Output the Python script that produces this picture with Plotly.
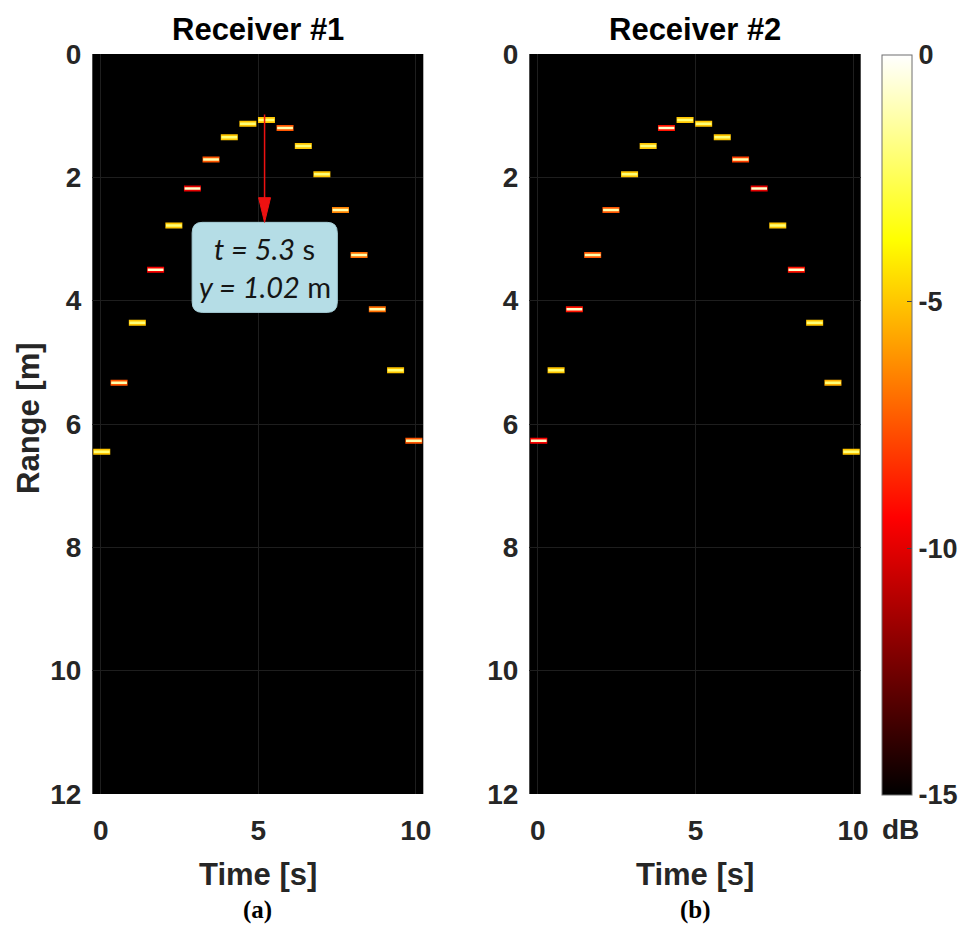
import plotly.graph_objects as go

# ---------------- data ----------------
time_s = [0.03, 0.58, 1.16, 1.74, 2.32, 2.91, 3.50, 4.08, 4.67,
          5.26, 5.85, 6.43, 7.02, 7.61, 8.20, 8.78, 9.36, 9.94]
rx1_range_m = [6.45, 5.33, 4.36, 3.50, 2.78, 2.18, 1.71, 1.35, 1.13,
               1.07, 1.20, 1.49, 1.95, 2.53, 3.26, 4.14, 5.13, 6.27]
rx2_range_m = [6.27, 5.13, 4.14, 3.26, 2.53, 1.95, 1.49, 1.20, 1.07,
               1.13, 1.35, 1.71, 2.18, 2.78, 3.50, 4.36, 5.33, 6.45]
# peak level of each echo and level at its edge (dB)
rx1_peak_db = [-2.0, -1.2, -2.0, -0.8, -2.0, -0.8, -1.2, -2.0, -2.0,
               -2.0, -1.2, -2.0, -2.0, -1.2, -1.2, -1.2, -2.0, -1.2]
rx1_edge_db = [-5.0, -7.5, -5.0, -9.5, -5.0, -10.0, -7.5, -5.0, -5.0,
               -5.0, -7.5, -5.0, -5.0, -6.5, -7.0, -7.0, -5.0, -7.5]
rx2_peak_db = [-0.8, -2.0, -0.8, -1.2, -1.2, -2.0, -2.0, -0.8, -2.0,
               -2.0, -2.0, -1.2, -0.8, -2.0, -0.8, -2.0, -2.0, -2.0]
rx2_edge_db = [-9.5, -5.0, -9.0, -7.5, -7.5, -5.0, -5.0, -9.0, -5.0,
               -5.0, -5.0, -8.0, -10.0, -5.0, -9.0, -5.0, -5.5, -5.0]
cbar_ticks = [0, -5, -10, -15]
x_ticks = [0, 5, 10]
y_ticks = [0, 2, 4, 6, 8, 10, 12]
peak_t, peak_y = 5.3, 1.02
panel_titles = ["Receiver #1", "Receiver #2"]
panel_tags = ["(a)", "(b)"]

DB_MIN, DB_MAX = -15.0, 0.0
HOT = [[0.0, "rgb(0,0,0)"], [0.375, "rgb(255,0,0)"],
       [0.75, "rgb(255,255,0)"], [1.0, "rgb(255,255,255)"]]


def hot(v):
    f = (v - DB_MIN) / (DB_MAX - DB_MIN)
    f = min(max(f, 0.0), 1.0)
    r = min(f / 0.375, 1.0)
    g = min(max((f - 0.375) / 0.375, 0.0), 1.0)
    b = min(max((f - 0.75) / 0.25, 0.0), 1.0)
    return "rgb(%d,%d,%d)" % (round(255 * r), round(255 * g), round(255 * b))


SANS = "Liberation Sans, Arial, sans-serif"
TICK_COL = "#262626"
HALF = 0.27
W, H = 962, 927

fig = go.Figure()

panels = [("x", "y", rx1_range_m, rx1_peak_db, rx1_edge_db),
          ("x2", "y2", rx2_range_m, rx2_peak_db, rx2_edge_db)]
for xa, ya, rng, pk, ed in panels:
    for t, r, p, e in zip(time_s, rng, pk, ed):
        fig.add_trace(go.Scatter(x=[t - HALF, t + HALF], y=[r, r], mode="lines",
                                 line=dict(color=hot(e), width=6),
                                 xaxis=xa, yaxis=ya, showlegend=False, hoverinfo="skip"))
        fig.add_trace(go.Scatter(x=[t - HALF + 0.02, t + HALF - 0.02], y=[r, r], mode="lines",
                                 line=dict(color=hot(p), width=2.5),
                                 xaxis=xa, yaxis=ya, showlegend=False, hoverinfo="skip"))

# colorbar carrier
fig.add_trace(go.Scatter(
    x=[None], y=[None], mode="markers", xaxis="x2", yaxis="y2", showlegend=False,
    marker=dict(color=[DB_MIN, DB_MAX], cmin=DB_MIN, cmax=DB_MAX, colorscale=HOT,
                showscale=True,
                colorbar=dict(x=881.7 / W, xanchor="left", xpad=0, ypad=0,
                              y=(H - 425) / H, yanchor="middle",
                              len=740 / H, lenmode="fraction",
                              thickness=30, thicknessmode="pixels",
                              outlinewidth=1, outlinecolor="#6e6e6e",
                              tickvals=cbar_ticks, ticktext=[str(v) for v in cbar_ticks],
                              ticks="inside", ticklen=5, tickcolor="#404040",
                              ticklabelposition="outside",
                              tickfont=dict(family=SANS, size=27, color=TICK_COL, weight="bold")))))

ydom = [(H - 794) / H, (H - 54) / H]
axis_common = dict(showgrid=True, gridcolor="#1e1e1e", gridwidth=1, zeroline=False,
                   showline=False, ticks="", automargin=False,
                   tickfont=dict(family=SANS, size=28, color=TICK_COL, weight="bold"))
fig.update_layout(
    width=W, height=H, margin=dict(l=0, r=0, t=0, b=0, autoexpand=False),
    paper_bgcolor="white", plot_bgcolor="black",
    xaxis=dict(domain=[92.3 / W, 423.3 / W], range=[-0.27, 10.24],
               tickvals=x_ticks, ticklabelstandoff=17, anchor="y", **axis_common),
    yaxis=dict(domain=ydom, range=[12, 0], tickvals=y_ticks, ticklabelstandoff=10,
               anchor="x", **axis_common),
    xaxis2=dict(domain=[529.3 / W, 860.7 / W], range=[-0.27, 10.24],
                tickvals=x_ticks, ticklabelstandoff=17, anchor="y2", **axis_common),
    yaxis2=dict(domain=ydom, range=[12, 0], tickvals=y_ticks, ticklabelstandoff=10,
                anchor="x2", **axis_common),
)

# annotation box and arrow
bx0, bx1, by0, by1 = 2.90, 7.51, 2.73, 4.19
rx, ry = 0.32, 0.17
path = (f"M {bx0+rx},{by0} L {bx1-rx},{by0} Q {bx1},{by0} {bx1},{by0+ry} "
        f"L {bx1},{by1-ry} Q {bx1},{by1} {bx1-rx},{by1} L {bx0+rx},{by1} "
        f"Q {bx0},{by1} {bx0},{by1-ry} L {bx0},{by0+ry} Q {bx0},{by0} {bx0+rx},{by0} Z")
fig.add_shape(type="path", path=path, xref="x", yref="y",
              fillcolor="#b5dde6", line=dict(color="#a7cfd8", width=1))
ax_x = 5.2
fig.add_shape(type="line", x0=ax_x, x1=ax_x, y0=0.98, y1=2.45, xref="x", yref="y",
              line=dict(color="#ee1111", width=1.5))
fig.add_shape(type="path", xref="x", yref="y",
              path=f"M {ax_x-0.19},{2.33} L {ax_x+0.19},{2.33} L {ax_x},{2.73} Z",
              fillcolor="#ee1111", line=dict(color="#ee1111", width=1))

ANN = "Lato, Open Sans, sans-serif"
fig.add_annotation(x=(bx0 + bx1) / 2, y=3.15, xref="x", yref="y", showarrow=False,
                   xanchor="center", yanchor="middle",
                   text=f"<i>t = {peak_t}</i> s", font=dict(family=ANN, size=29, color="#151515"))
fig.add_annotation(x=(bx0 + bx1) / 2, y=3.77, xref="x", yref="y", showarrow=False,
                   xanchor="center", yanchor="middle",
                   text=f"<i>y = {peak_y:.2f}</i> m", font=dict(family=ANN, size=29, color="#151515"))

centers = [(92.3 + 423.3) / 2 / W, (529.3 + 860.7) / 2 / W]
for cx, title, tag in zip(centers, panel_titles, panel_tags):
    fig.add_annotation(x=cx, y=1 - 29 / H, xref="paper", yref="paper", showarrow=False,
                       text=title, xanchor="center", yanchor="middle",
                       font=dict(family=SANS, size=31, color="black", weight="bold"))
    fig.add_annotation(x=cx, y=1 - 874 / H, xref="paper", yref="paper", showarrow=False,
                       text="Time [s]", xanchor="center", yanchor="middle",
                       font=dict(family=SANS, size=31, color=TICK_COL, weight="bold"))
    fig.add_annotation(x=cx, y=1 - 910 / H, xref="paper", yref="paper", showarrow=False,
                       text=tag, xanchor="center", yanchor="middle",
                       font=dict(family="Liberation Serif, Times New Roman, serif", size=25,
                                 color="black", weight="bold"))

fig.add_annotation(x=28 / W, y=1 - 418 / H, xref="paper", yref="paper", showarrow=False,
                   text="Range [m]", textangle=-90, xanchor="center", yanchor="middle",
                   font=dict(family=SANS, size=31, color=TICK_COL, weight="bold"))
fig.add_annotation(x=900 / W, y=1 - 829 / H, xref="paper", yref="paper", showarrow=False,
                   text="dB", xanchor="center", yanchor="middle",
                   font=dict(family=SANS, size=28, color=TICK_COL, weight="bold"))

fig.write_html("out.html", config={"displayModeBar": False},
               post_script="document.body.style.margin='0';document.body.style.overflow='hidden';")
